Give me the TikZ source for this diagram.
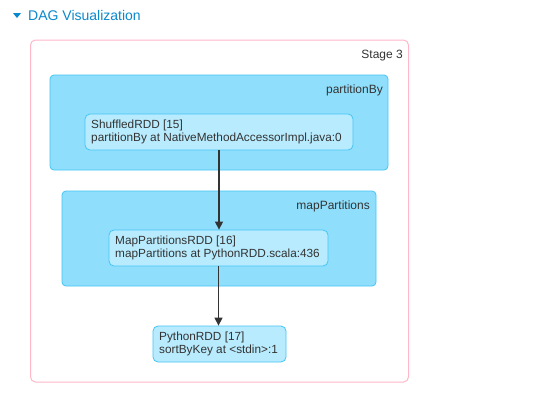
\documentclass[tikz,border=0pt]{standalone}
\usepackage{fontspec}
\setmainfont{Liberation Sans}
\usetikzlibrary{arrows.meta}
\definecolor{stagepink}{HTML}{FFB8C8}
\definecolor{clfill}{HTML}{8FDFFC}
\definecolor{clline}{HTML}{45C5F5}
\definecolor{rddfill}{HTML}{B8EBFD}
\definecolor{txt}{HTML}{333333}
\definecolor{hdr}{HTML}{0A88CC}
\tikzset{
  stagebox/.style={draw=stagepink, line width=1pt, fill=white, rounded corners=5pt, inner sep=0pt},
  clusterbox/.style={draw=clline, line width=0.8pt, fill=clfill, rounded corners=4pt, inner sep=0pt},
  rddbox/.style={draw=clline, line width=0.8pt, fill=rddfill, rounded corners=5pt, inner sep=0pt},
  rddtext/.style={anchor=west, align=left, text=txt, inner sep=0pt, font=\fontsize{11.8}{13}\selectfont},
  lbl/.style={text=txt, font=\fontsize{12}{13}\selectfont, inner sep=0pt},
  edge/.style={draw=txt, line width=1.3pt, -{Triangle[length=8pt,width=8pt]}}
}
\begin{document}
\begin{tikzpicture}[x=1pt,y=-1pt]
\useasboundingbox (0,0) rectangle (551,400);
% header
\fill[hdr] (13,13) -- (21,13) -- (17,18) -- cycle;
\node[anchor=west, text=hdr, font=\fontsize{14}{16}\selectfont, inner sep=0pt] (hd) at (28,15.5) {DAG Visualization};
% stage
\node[stagebox, minimum width=378pt, minimum height=342pt] (stage) at (219.5,211) {};
\node[lbl, anchor=east] (stlbl) at (403,56) {Stage 3};
% cluster partitionBy
\node[clusterbox, minimum width=338pt, minimum height=95pt] (cl1) at (219,122.5) {};
\node[lbl, anchor=east] (cl1lbl) at (383,90) {partitionBy};
\node[rddbox, minimum width=268pt, minimum height=36pt] (r15) at (219,132) {};
\node[rddtext] (t15) at (91,132) {ShuffledRDD [15]\\partitionBy at NativeMethodAccessorImpl.java:0};
% cluster mapPartitions
\node[clusterbox, minimum width=314pt, minimum height=95pt] (cl2) at (219,238.5) {};
\node[lbl, anchor=east] (cl2lbl) at (370,206) {mapPartitions};
\node[rddbox, minimum width=219pt, minimum height=36pt] (r16) at (218.5,248) {};
\node[rddtext] (t16) at (115,248) {MapPartitionsRDD [16]\\mapPartitions at PythonRDD.scala:436};
% python rdd
\node[rddbox, minimum width=133pt, minimum height=36pt] (r17) at (219.5,344) {};
\node[rddtext] (t17) at (159,344) {PythonRDD [17]\\sortByKey at <stdin>:1};
% edges
\draw[edge] (r15.south) -- (r15.south |- r16.north);
\draw[edge] (r16.south) -- (r16.south |- r17.north);
\end{tikzpicture}
\end{document}
